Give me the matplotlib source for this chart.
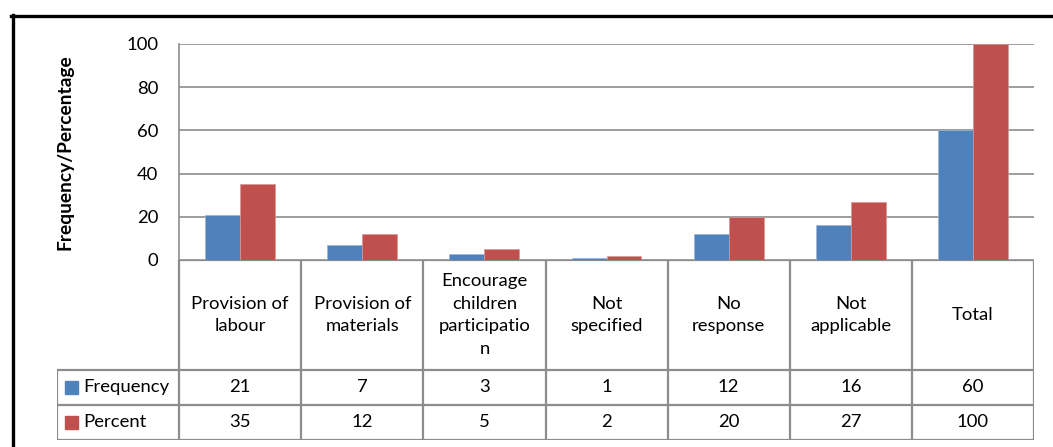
import matplotlib
matplotlib.use("Agg")
import matplotlib.pyplot as plt
from matplotlib.lines import Line2D
from matplotlib.patches import Rectangle

plt.rcParams['font.family'] = ['Lato', 'DejaVu Sans']

categories = ["Provision of\nlabour", "Provision of\nmaterials",
              "Encourage\nchildren\nparticipatio\nn", "Not\nspecified",
              "No\nresponse", "Not\napplicable", "Total"]
frequency = [21, 7, 3, 1, 12, 16, 60]
percent = [35, 12, 5, 2, 20, 27, 100]
series_names = ["Frequency", "Percent"]
yticks = [0, 20, 40, 60, 80, 100]

BLUE = "#4F81BD"
RED = "#C0504D"
GRID = "#8C8C8C"
FS = 13.3

W, H = 1053, 447
fig = plt.figure(figsize=(W / 100, H / 100), dpi=100)


def fx(px):
    return px / W


def fy(py):
    return 1 - py / H


# plot area in pixel coordinates
L, R, T, B = 179, 1034, 44, 260
ax = fig.add_axes([fx(L), fy(B), fx(R) - fx(L), fy(T) - fy(B)])
n = len(categories)
ax.set_xlim(0, n)
ax.set_ylim(0, 100)
bw = 1 / 3.5
xs = [i + 0.5 for i in range(n)]
ax.bar([x - bw / 2 for x in xs], frequency, width=bw, color=BLUE,
       edgecolor="#9DB5D8", linewidth=0.5, zorder=3)
ax.bar([x + bw / 2 for x in xs], percent, width=bw, color=RED,
       edgecolor="#D99694", linewidth=0.5, zorder=3)
ax.set_yticks(yticks)
ax.set_yticklabels([str(v) for v in yticks], fontsize=FS)
ax.tick_params(axis="y", length=0, pad=15)
ax.set_xticks([])
ax.grid(axis="y", color=GRID, linewidth=1.2, zorder=0)
for s in ["top", "right", "bottom"]:
    ax.spines[s].set_visible(False)
ax.spines["left"].set_color(GRID)
ax.spines["left"].set_linewidth(1.2)
ax.set_ylabel("Frequency/Percentage", fontsize=13.8, fontweight="bold",
              labelpad=38)

# data table underneath the plot
TL = 57
row_y = [260, 370, 405, 440]
tab = fig.add_axes([fx(TL), fy(row_y[-1]), fx(R) - fx(TL),
                    fy(row_y[0]) - fy(row_y[-1])])
tab.set_xlim(-1, n)
tab.set_ylim(row_y[-1], row_y[0])
tab.axis("off")
lk = dict(color=GRID, linewidth=1.6, solid_capstyle="projecting")
# horizontal rules
tab.add_line(Line2D([0, n], [row_y[0], row_y[0]], **lk))
for y in row_y[1:]:
    tab.add_line(Line2D([-1, n], [y, y], **lk))
# vertical rules
tab.add_line(Line2D([-1, -1], [row_y[1], row_y[-1]], **lk))
for i in range(n + 1):
    tab.add_line(Line2D([i, i], [row_y[0], row_y[-1]], **lk))

hy = (row_y[0] + row_y[1]) / 2
for i, c in enumerate(categories):
    tab.text(i + 0.5, hy, c, ha="center", va="center", fontsize=FS,
             linespacing=1.5)
rows = [frequency, percent]
colors = [BLUE, RED]
for r, (vals, name, col) in enumerate(zip(rows, series_names, colors)):
    yc = (row_y[r + 1] + row_y[r + 2]) / 2
    for i, v in enumerate(vals):
        tab.text(i + 0.5, yc, str(v), ha="center", va="center", fontsize=FS)
    sq = 13 / 122.14
    tab.add_patch(Rectangle((-1 + 8 / 122.14, yc - 6.5), sq, 13,
                            color=col, zorder=3))
    tab.text(-1 + 26 / 122.14, yc, name, ha="left", va="center", fontsize=FS)

# outer frame
fig.add_artist(Line2D([fx(11), 1], [fy(16), fy(16)], color="black",
                      linewidth=2.4, transform=fig.transFigure))
fig.add_artist(Line2D([fx(12.5), fx(12.5)], [fy(15), 0], color="black",
                      linewidth=2.4, transform=fig.transFigure))

fig.savefig("out.png", dpi=100)
